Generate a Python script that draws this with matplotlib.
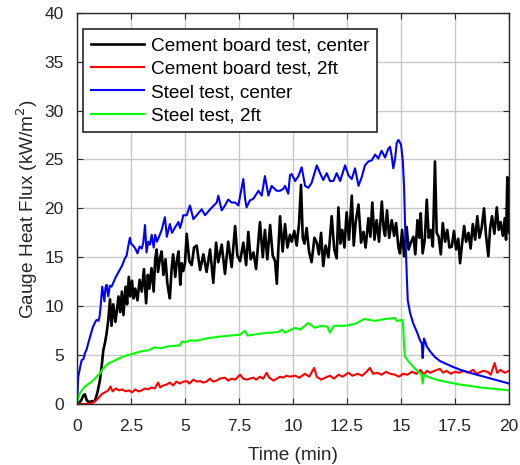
import matplotlib
matplotlib.use("Agg")
import matplotlib.pyplot as plt

plt.rcParams['font.family'] = ['Liberation Sans', 'DejaVu Sans']

# Cement board test, center (time in min, heat flux in kW/m2)
cb_center_t = [0, 0.1, 0.2, 0.3, 0.37, 0.45, 0.55, 0.7, 0.83, 0.95, 1.06, 1.15, 1.22, 1.3, 1.37,
               1.45, 1.53, 1.6, 1.68, 1.78, 1.85, 1.92, 2.0, 2.08, 2.15, 2.25, 2.32, 2.4, 2.47,
               2.55, 2.62, 2.7, 2.8, 2.9, 3.0, 3.1, 3.2, 3.28, 3.35, 3.45, 3.55, 3.62, 3.69, 3.75,
               3.85, 3.92, 4.0, 4.1, 4.18, 4.25, 4.3, 4.38, 4.45, 4.55, 4.62, 4.7, 4.78, 4.85,
               4.92, 5.0, 5.08, 5.2, 5.31, 5.42, 5.54, 5.7, 5.85, 6.0, 6.16, 6.31, 6.44, 6.54,
               6.7, 6.85, 7.0, 7.16, 7.32, 7.42, 7.55, 7.7, 7.83, 7.93, 8.04, 8.17, 8.29, 8.47,
               8.6, 8.7, 8.81, 8.94, 9.06, 9.17, 9.25, 9.32, 9.4, 9.52, 9.63, 9.74, 9.86, 9.94,
               10.06, 10.17, 10.28, 10.37, 10.45, 10.53, 10.63, 10.74, 10.86, 10.99, 11.1, 11.2,
               11.3, 11.4, 11.51, 11.64, 11.79, 11.91, 12.02, 12.1, 12.19, 12.28, 12.38, 12.48,
               12.59, 12.72, 12.81, 12.9, 13.03, 13.15, 13.26, 13.36, 13.49, 13.58, 13.67, 13.77,
               13.87, 13.98, 14.11, 14.2, 14.26, 14.35, 14.45, 14.57, 14.68, 14.77, 14.88, 14.95,
               15.05, 15.14, 15.26, 15.35, 15.45, 15.57, 15.66, 15.76, 15.85, 15.91, 16.0, 16.1,
               16.19, 16.28, 16.37, 16.47, 16.57, 16.65, 16.74, 16.84, 16.93, 17.04, 17.14, 17.24,
               17.35, 17.45, 17.55, 17.65, 17.73, 17.82, 17.92, 18.01, 18.12, 18.22, 18.32, 18.43,
               18.53, 18.63, 18.73, 18.84, 18.93, 19.04, 19.12, 19.21, 19.32, 19.43, 19.52, 19.61,
               19.71, 19.8, 19.86, 19.92, 19.98, 20.0]
cb_center_v = [0.0, 0.1, 0.4, 0.9, 1.0, 0.4, 0.2, 0.3, 0.3, 1.2, 2.4, 4.0, 5.5, 6.3, 7.2,
               8.6, 10.7, 8.0, 10.2, 8.4, 9.6, 11.0, 9.4, 11.5, 9.1, 12.0, 10.2, 13.0, 11.0,
               12.6, 10.8, 11.8, 10.6, 12.7, 11.5, 13.8, 10.3, 13.2, 11.8, 13.9, 11.5, 14.8, 15.8, 13.5,
               15.0, 15.6, 13.2, 14.8, 12.4, 11.4, 10.8, 13.8, 15.3, 13.0, 14.6, 15.6, 12.2, 14.4,
               13.6, 14.4, 17.4, 14.6, 14.2, 16.0, 16.2, 13.7, 15.3, 13.5, 15.8, 12.4, 16.5, 14.5,
               16.3, 13.3, 16.6, 14.0, 18.2, 15.2, 14.6, 16.5, 14.2, 17.6, 14.8, 15.5, 13.8, 18.6,
               15.0, 17.8, 14.8, 18.3, 15.2, 14.6, 12.3, 15.8, 19.2, 15.6, 18.4, 16.0, 17.3, 16.6,
               17.7, 16.2, 18.5, 22.4, 17.0, 16.4, 18.0, 15.6, 14.5, 17.0, 16.5, 15.3,
               17.5, 14.1, 16.2, 15.0, 19.2, 15.8, 14.9, 20.1, 16.4, 17.8, 16.0, 19.6,
               16.8, 21.3, 16.2, 18.6, 20.4, 16.5, 17.6, 16.0, 19.0, 17.1, 20.6, 16.8,
               18.8, 16.6, 20.7, 17.8, 17.2, 19.8, 17.0, 18.8, 17.2, 18.5, 16.0, 15.4,
               17.8, 15.1, 18.1, 15.8, 16.5, 17.1, 15.3, 18.8, 17.0, 19.5, 15.4, 16.8,
               20.9, 17.0, 17.8, 16.1, 24.8, 17.5, 17.1, 15.3, 18.5, 16.6, 17.8, 16.0,
               16.1, 17.7, 15.8, 16.9, 14.4, 16.3, 18.2, 16.6, 17.5, 15.9, 18.4, 16.8,
               19.2, 17.0, 18.0, 20.0, 17.3, 15.1, 17.9, 19.2, 17.4, 20.1, 17.8, 18.6,
               17.2, 19.0, 16.8, 23.2, 17.8, 17.5]

# Cement board test, 2ft
cb_2ft_t = [0, 0.4, 0.7, 0.85, 0.99, 1.1, 1.2, 1.3, 1.45, 1.55, 1.65, 1.8, 1.95, 2.1, 2.25, 2.4,
            2.55, 2.7, 2.85, 3.0, 3.15, 3.3, 3.45, 3.6, 3.76, 3.85, 4.0, 4.15, 4.3, 4.45, 4.6,
            4.77, 4.93, 5.08, 5.2, 5.39, 5.55, 5.7, 5.85, 6.0, 6.16, 6.3, 6.47, 6.6, 6.85, 7.0,
            7.16, 7.32, 7.55, 7.7, 7.85, 8.0, 8.17, 8.3, 8.47, 8.62, 8.78, 8.9, 9.1, 9.25, 9.4,
            9.55, 9.7, 9.86, 10.1, 10.3, 10.55, 10.75, 10.98, 11.1, 11.3, 11.5, 11.71, 11.9,
            12.1, 12.3, 12.56, 12.75, 13.0, 13.2, 13.4, 13.56, 13.7, 13.9, 14.1, 14.3, 14.5,
            14.72, 14.9, 15.1, 15.3, 15.5, 15.72, 15.9, 16.05, 16.2, 16.35, 16.55, 16.8, 16.95,
            17.1, 17.3, 17.5, 17.7, 17.9, 18.1, 18.34, 18.5, 18.8, 19.0, 19.15, 19.33, 19.45,
            19.6, 19.8, 20.0]
cb_2ft_v = [0.0, 0.0, 0.1, 0.3, 0.6, 0.9, 1.1, 1.2, 1.4, 1.8, 1.3, 1.6, 1.4, 1.5, 1.3, 1.4,
            1.2, 1.5, 1.3, 1.4, 1.6, 1.5, 1.7, 1.6, 2.2, 1.7, 1.9, 2.0, 2.2, 1.9, 2.3,
            2.1, 2.3, 2.35, 2.1, 2.5, 2.3, 2.35, 2.2, 2.3, 2.6, 2.3, 2.4, 2.6, 2.7, 2.4,
            2.6, 2.5, 3.0, 2.6, 2.5, 2.6, 2.7, 2.5, 2.8, 2.6, 3.2, 2.7, 2.4, 2.6, 2.8,
            2.7, 2.9, 2.8, 2.9, 2.7, 3.1, 2.8, 3.7, 2.8, 2.5, 2.7, 2.9, 2.6,
            3.0, 2.8, 3.2, 2.9, 3.1, 2.9, 3.3, 3.7, 3.1, 3.2, 3.0, 3.3, 3.1,
            3.0, 2.8, 3.1, 3.0, 3.3, 3.1, 3.5, 3.0, 3.4, 3.2, 3.4, 3.6, 3.2,
            3.4, 3.1, 3.3, 3.2, 3.4, 3.2, 3.5, 3.1, 3.4, 3.3, 3.0, 4.2, 3.2,
            3.5, 3.2, 3.4]

# Steel test, center
st_center_t = [0, 0.06, 0.15, 0.22, 0.3, 0.37, 0.45, 0.52, 0.62, 0.7, 0.76, 0.85, 0.91, 1.0,
               1.05, 1.1, 1.17, 1.23, 1.27, 1.32, 1.37, 1.45, 1.52, 1.6, 1.7, 1.8, 1.9, 2.0,
               2.1, 2.2, 2.3, 2.37, 2.45, 2.5, 2.6, 2.7, 2.8, 2.9, 3.0, 3.07, 3.15, 3.22, 3.3,
               3.38, 3.46, 3.55, 3.62, 3.7, 3.8, 3.92, 4.07, 4.16, 4.3, 4.4, 4.55, 4.7, 4.77,
               4.85, 4.92, 5.08, 5.23, 5.39, 5.54, 5.77, 5.93, 6.16, 6.47, 6.54, 6.7, 6.85, 7.0,
               7.16, 7.32, 7.47, 7.7, 7.78, 7.85, 8.0, 8.17, 8.4, 8.55, 8.7, 8.86, 9.01, 9.24,
               9.4, 9.55, 9.63, 9.78, 9.86, 9.94, 10.1, 10.25, 10.4, 10.56, 10.71, 10.86, 11.1,
               11.25, 11.4, 11.56, 11.71, 11.87, 12.02, 12.18, 12.41, 12.56, 12.72, 12.87, 13.03,
               13.18, 13.33, 13.49, 13.64, 13.8, 13.95, 14.1, 14.26, 14.41, 14.49, 14.57, 14.64,
               14.72, 14.8, 14.88, 15.0, 15.08, 15.14, 15.18, 15.23, 15.26, 15.31, 15.42, 15.57,
               15.73, 15.88, 15.96, 16.0, 16.06, 16.1, 16.19, 16.34, 16.57, 16.8, 17.4, 17.75,
               18.34, 19.0, 19.5, 20.0]
st_center_v = [0.0, 2.8, 3.8, 4.5, 4.6, 5.2, 5.6, 6.2, 7.0, 7.6, 8.0, 8.4, 8.6, 8.5,
               9.0, 10.1, 12.0, 11.1, 10.5, 11.9, 12.2, 11.0, 12.1, 12.0, 12.5, 13.0, 13.4, 13.8,
               14.2, 14.8, 15.2, 16.1, 17.0, 16.4, 16.2, 15.9, 15.4, 16.1, 15.9, 16.5, 18.3, 15.5, 16.6,
               16.3, 17.3, 16.0, 17.3, 16.6, 17.1, 17.8, 19.1, 17.1, 18.4, 17.5, 18.1, 18.6, 18.0,
               18.6, 19.3, 19.3, 20.3, 18.9, 19.3, 19.9, 19.3, 19.9, 20.6, 21.3, 19.8, 20.3, 20.9,
               20.6, 20.6, 20.3, 23.0, 21.0, 20.1, 20.8, 21.0, 21.8, 21.3, 23.3, 21.3, 22.3, 21.8,
               21.8, 22.0, 22.3, 21.5, 23.4, 23.5, 22.8, 23.3, 24.2, 22.3, 22.1, 22.6, 24.4,
               23.6, 22.9, 23.6, 22.8, 22.8, 23.6, 22.8, 24.4, 23.4, 23.0, 24.1, 22.3,
               23.2, 24.4, 24.8, 24.9, 25.5, 25.1, 25.9, 25.2, 26.1, 26.3, 25.3, 24.1,
               25.0, 26.7, 27.0, 26.5, 24.9, 22.2, 18.8, 15.4, 13.4, 10.6, 9.3, 8.2,
               7.4, 6.5, 6.2, 4.7, 6.7, 6.5, 5.9, 5.4, 4.8, 4.4, 3.8, 3.5,
               3.1, 2.7, 2.4, 2.1]

# Steel test, 2ft
st_2ft_t = [0, 0.05, 0.14, 0.25, 0.37, 0.55, 0.7, 0.83, 0.95, 1.06, 1.2, 1.37, 1.5, 1.7, 2.07,
            2.35, 2.68, 3.0, 3.3, 3.6, 3.9, 4.2, 4.5, 4.77, 4.85, 5.0, 5.23, 5.6, 5.97, 6.3,
            6.63, 7.1, 7.55, 7.78, 7.9, 8.2, 8.5, 8.94, 9.3, 9.5, 9.63, 10.1, 10.33, 10.71, 11.0,
            11.33, 11.6, 11.71, 11.9, 12.4, 12.87, 13.3, 13.8, 14.26, 14.72, 14.8, 15.07, 15.1,
            15.14, 15.18, 15.33, 15.57, 15.8, 15.95, 16.0, 16.06, 16.34, 16.8, 17.26, 17.73,
            18.2, 18.66, 19.1, 19.6, 20.0]
st_2ft_v = [0.0, 0.6, 1.1, 1.5, 1.8, 2.1, 2.3, 2.6, 2.9, 3.1, 3.6, 4.0, 4.2, 4.4, 4.8,
            5.0, 5.2, 5.4, 5.5, 5.8, 5.7, 5.9, 5.95, 6.0, 6.4, 6.3, 6.5, 6.5, 6.7, 6.8,
            6.9, 7.0, 7.1, 7.5, 7.0, 7.1, 7.2, 7.3, 7.35, 7.6, 7.3, 7.8, 7.6, 8.3, 7.8,
            8.0, 7.9, 7.3, 8.0, 8.0, 8.2, 8.7, 8.5, 8.7, 8.8, 8.5, 8.6, 7.9,
            5.9, 4.9, 4.4, 3.8, 3.3, 3.0, 2.1, 3.0, 2.7, 2.4, 2.2, 2.0,
            1.85, 1.7, 1.6, 1.5, 1.4]

fig = plt.figure(figsize=(5.2, 4.65), dpi=100)
ax = fig.add_axes([0.148, 0.131, 0.831, 0.8417])

ax.plot(cb_center_t, cb_center_v, color='black', lw=1.9, label='Cement board test, center')
ax.plot(cb_2ft_t, cb_2ft_v, color='red', lw=1.5, label='Cement board test, 2ft')
ax.plot(st_center_t, st_center_v, color='blue', lw=1.5, label='Steel test, center')
ax.plot(st_2ft_t, st_2ft_v, color=(0, 1, 0), lw=1.5, label='Steel test, 2ft')

ax.set_xlim(0, 20)
ax.set_ylim(0, 40)
ax.set_xticks([0, 2.5, 5, 7.5, 10, 12.5, 15, 17.5, 20])
ax.set_xticklabels(['0', '2.5', '5', '7.5', '10', '12.5', '15', '17.5', '20'])
ax.set_yticks(range(0, 41, 5))
ax.grid(True, color='#c8c8c8', lw=1.0)
ax.set_axisbelow(True)
ax.tick_params(direction='in', top=True, right=True, length=4, width=0.8,
               labelsize=12.5, colors='#262626')
ax.tick_params(axis='x', pad=11)
ax.tick_params(axis='y', pad=9.5)
for s in ax.spines.values():
    s.set_color('#262626')
    s.set_linewidth(1.0)

ax.set_xlabel('Time (min)', fontsize=13.7, color='#262626', labelpad=9)
ax.set_ylabel('Gauge Heat Flux (kW/m$^2$)', fontsize=13.7, color='#262626', labelpad=3)

leg = ax.legend(loc='upper left', bbox_to_anchor=(0.0146, 0.9576), borderaxespad=0,
                fontsize=13.7, fancybox=False, framealpha=1, edgecolor='#262626',
                handlelength=2.8, handletextpad=0.35, labelspacing=0.32, borderpad=0.4)
leg.get_frame().set_linewidth(1.2)

fig.savefig('out.png', dpi=100)
